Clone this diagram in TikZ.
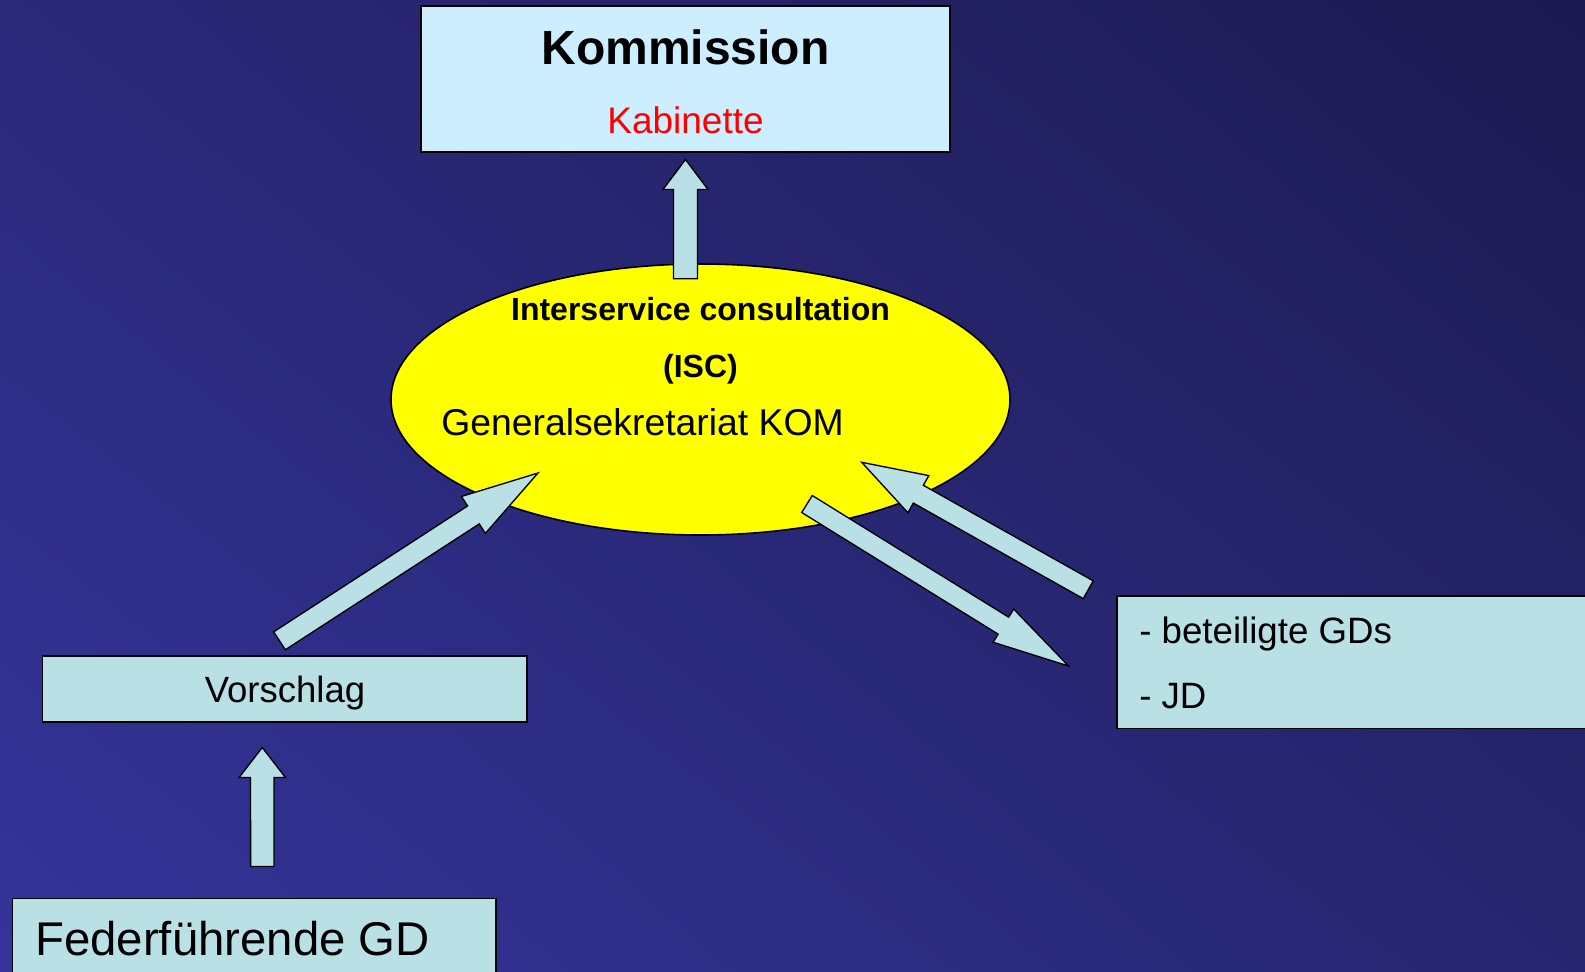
\documentclass[tikz,border=0pt]{standalone}
\usepackage{fontspec}
\setmainfont{Liberation Sans}
\usetikzlibrary{calc,shapes.geometric,shadings}

\definecolor{bgul}{RGB}{42,41,122}
\definecolor{bgur}{RGB}{28,26,80}
\definecolor{bgll}{RGB}{52,52,155}
\definecolor{bglr}{RGB}{38,38,112}
\definecolor{boxfill}{RGB}{185,224,228}
\definecolor{komfill}{RGB}{205,238,255}
\definecolor{iscfill}{RGB}{255,255,0}

\tikzset{
  box/.style={draw=black, line width=1.2pt, fill=boxfill, rectangle, inner sep=0pt},
  txt/.style={inner sep=0pt, anchor=base},
  blockarrow/.style={draw=black, line width=1pt, fill=boxfill, line join=miter},
}

% block arrow: tail, tip, half shaft, half head, head length
\newcommand{\blockarrow}[5]{%
  \coordinate (hb) at ($(#2)!#5*0.75pt!(#1)$);
  \draw[blockarrow] ($(#1)!#3*0.75pt!90:(#2)$) -- ($(hb)!#3*0.75pt!-90:(#1)$) -- ($(hb)!#4*0.75pt!-90:(#1)$) -- (#2) -- ($(hb)!#4*0.75pt!90:(#1)$) -- ($(hb)!#3*0.75pt!90:(#1)$) -- ($(#1)!#3*0.75pt!-90:(#2)$) -- cycle ;
}

\begin{document}
\begin{tikzpicture}[x=0.75pt,y=0.75pt,yscale=-1,xscale=1]
\useasboundingbox (0,0) rectangle (1585,971);
\shade[upper left=bgul, upper right=bgur, lower left=bgll, lower right=bglr] (0,0) rectangle (1585,971);
\clip (0,0) rectangle (1585,971);

%Shape: Ellipse [isc]
\node[ellipse, draw=black, line width=1.2pt, fill=iscfill, inner sep=0pt, minimum width=464.25pt, minimum height=203.25pt] (isc) at (700.5,399.5) {};
%Shape: Rectangle [kom]
\node[box, fill=komfill, minimum width=396.75pt, minimum height=109.5pt] (kom) at (685.5,79) {};
%Shape: Rectangle [vor]
\node[box, minimum width=363.4pt, minimum height=49.5pt] (vor) at (284.75,689) {};
%Shape: Rectangle [fed]
\node[box, minimum width=362.8pt, minimum height=69pt] (fed) at (254.2,944.3) {};
%Shape: Rectangle [gd]
\node[box, minimum width=377.5pt, minimum height=99.2pt] (gd) at (1368.4,662.2) {};

% Text Node
\node[txt, font=\bfseries\fontsize{36}{43}\selectfont] (komt) at (685.5,64) {Kommission};
% Text Node
\node[txt, text=red, font=\fontsize{27.75}{33}\selectfont] (kab) at (685.5,133) {Kabinette};
% Text Node
\node[txt, font=\bfseries\fontsize{24}{29}\selectfont] (isct) at (700.5,320) {Interservice consultation};
% Text Node
\node[txt, font=\bfseries\fontsize{24}{29}\selectfont] (iscs) at (700.5,377) {(ISC)};
% Text Node
\node[txt, anchor=base west, font=\fontsize{28}{34}\selectfont] (gen) at (441,435) {Generalsekretariat KOM};
% Text Node
\node[txt, font=\fontsize{27.4}{33}\selectfont] (vort) at (285,702.7) {Vorschlag};
% Text Node
\node[txt, anchor=base west, font=\fontsize{35.5}{43}\selectfont] (fedt) at (35,955) {Federführende GD};
% Text Node
\node[txt, anchor=base west, font=\fontsize{27.5}{33}\selectfont] (gd1) at (1139,643) {- beteiligte GDs};
% Text Node
\node[txt, anchor=base west, font=\fontsize{27.5}{33}\selectfont] (gd2) at (1139,708) {- JD};

%Shape: Up Arrow [isc -> kom]
\coordinate (a1s) at ($(kom.south)+(0,126)$);
\coordinate (a1e) at ($(kom.south)+(0,6.7)$);
\blockarrow{a1s}{a1e}{12}{22.5}{30}
%Shape: Up Arrow [fed -> vor]
\coordinate (a2s) at ($(fed.north)+(8.1,-31)$);
\coordinate (a2e) at ($(vor.south)+(-22.5,24.7)$);
\blockarrow{a2s}{a2e}{11.7}{23.2}{30}
%Shape: Right Arrow [vor -> isc]
\coordinate (a3s) at ($(vor.north)+(-5.25,-14.4)$);
\coordinate (a3e) at ($(isc.center)+(-162.5,73.5)$);
\blockarrow{a3s}{a3e}{10.7}{22}{77}
%Shape: Right Arrow [isc -> gd]
\coordinate (a4s) at ($(isc.center)+(106.5,104.5)$);
\coordinate (a4e) at ($(gd.west)+(-47.4,3.8)$);
\blockarrow{a4s}{a4e}{10}{19.5}{76.6}
%Shape: Right Arrow [gd -> isc]
\coordinate (a5s) at ($(gd.north west)+(-27.7,-5.5)$);
\coordinate (a5e) at ($(isc.center)+(161.2,62.8)$);
\blockarrow{a5s}{a5e}{10.2}{21.3}{65}

\end{tikzpicture}
\end{document}
